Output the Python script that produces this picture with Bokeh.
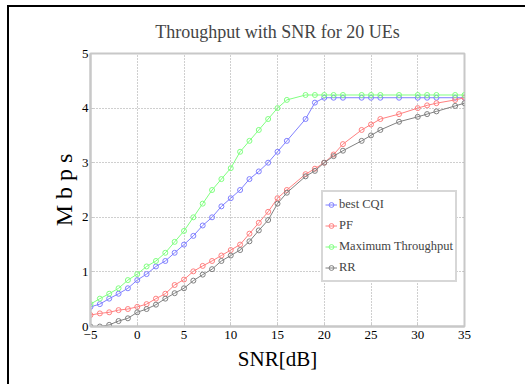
from bokeh.plotting import figure
from bokeh.models import Range1d, FixedTicker, Legend
from bokeh.embed import file_html
from bokeh.resources import INLINE

snr = [-5, -4, -3, -2, -1, 0, 1, 2, 3, 4, 5, 6, 7, 8, 9, 10, 11, 12, 13, 14, 15, 16,
       18, 19, 20, 21, 22, 24, 25, 26, 28, 30, 31, 32, 34, 35]

best_cqi = [0.36, 0.41, 0.51, 0.60, 0.70, 0.85, 0.96, 1.10, 1.20, 1.35, 1.50, 1.66,
            1.85, 2.00, 2.20, 2.35, 2.50, 2.70, 2.84, 3.00, 3.20, 3.40,
            3.80, 4.10, 4.19, 4.19, 4.19, 4.19, 4.19, 4.19, 4.19, 4.19, 4.19, 4.19, 4.19, 4.19]

pf = [0.21, 0.24, 0.26, 0.30, 0.32, 0.36, 0.41, 0.51, 0.60, 0.76, 0.86, 1.01,
      1.11, 1.20, 1.30, 1.40, 1.50, 1.70, 1.90, 2.10, 2.35, 2.50,
      2.79, 2.89, 3.00, 3.15, 3.34, 3.60, 3.70, 3.80, 3.89, 4.00, 4.05, 4.09, 4.15, 4.19]

max_tp = [0.41, 0.51, 0.60, 0.70, 0.85, 0.96, 1.10, 1.20, 1.35, 1.55, 1.75, 2.00,
          2.25, 2.50, 2.70, 2.90, 3.20, 3.40, 3.60, 3.80, 4.00, 4.15,
          4.24, 4.24, 4.24, 4.24, 4.24, 4.24, 4.24, 4.24, 4.24, 4.24, 4.24, 4.24, 4.24, 4.24]

rr = [0.00, 0.00, 0.03, 0.10, 0.15, 0.26, 0.32, 0.40, 0.51, 0.61, 0.70, 0.84,
      0.95, 1.05, 1.20, 1.30, 1.40, 1.56, 1.76, 1.95, 2.25, 2.45,
      2.75, 2.85, 3.00, 3.12, 3.22, 3.40, 3.50, 3.60, 3.75, 3.84, 3.89, 3.94, 4.04, 4.09]

x_ticks = [-5, 0, 5, 10, 15, 20, 25, 30, 35]
y_ticks = [0, 1, 2, 3, 4, 5]

series = [
    ("best CQI", best_cqi, "#8080ff"),
    ("PF", pf, "#ff8080"),
    ("Maximum Throughput", max_tp, "#80ff80"),
    ("RR", rr, "#808080"),
]

FONT = "Liberation Serif"

p = figure(width=516, height=377, output_backend="svg", toolbar_location=None,
           x_range=Range1d(-5, 35), y_range=Range1d(0, 5),
           min_border_left=81, min_border_right=63, min_border_top=46, min_border_bottom=60)

# black page frame: left and top edges near the corner, the rest runs off the page
p.styles = {"margin-left": "7px", "margin-top": "5px",
            "border-left": "2px solid black", "border-top": "2px solid black",
            "box-sizing": "content-box"}

p.title.text = "Throughput with SNR for 20 UEs"
p.title.align = "center"
p.title.text_font = FONT
p.title.text_font_style = "normal"
p.title.text_font_size = "18px"
p.title.standoff = 24

p.outline_line_color = "#c8c8c8"
p.outline_line_width = 2
p.background_fill_color = "white"
p.border_fill_color = "white"

for ax in (p.xaxis[0], p.yaxis[0]):
    ax.axis_line_color = "#c8c8c8"
    ax.axis_line_width = 2
    ax.major_tick_in = 3
    ax.major_tick_out = 0
    ax.major_tick_line_color = "#c8c8c8"
    ax.minor_tick_line_color = None
    ax.major_label_text_font = FONT
    ax.major_label_text_font_size = "13px"
    ax.major_label_text_color = "black"
    ax.axis_label_text_font = FONT
    ax.axis_label_text_font_style = "normal"
    ax.axis_label_text_color = "black"

p.xaxis.ticker = FixedTicker(ticks=x_ticks)
p.yaxis.ticker = FixedTicker(ticks=y_ticks)
p.xaxis.axis_label = "SNR[dB]"
p.xaxis.axis_label_text_font_size = "21px"
p.xaxis.axis_label_standoff = 5
p.xaxis.major_label_standoff = 4
p.yaxis.axis_label = "M b p s"
p.yaxis.axis_label_text_font_size = "24px"
p.yaxis.axis_label_standoff = 2
p.yaxis.major_label_standoff = 2

p.grid.grid_line_color = "#888888"
p.grid.grid_line_dash = "1 2"
p.grid.grid_line_alpha = 0.8
p.xgrid.ticker = FixedTicker(ticks=x_ticks)
p.ygrid.ticker = FixedTicker(ticks=y_ticks)

items = []
for name, vals, col in series:
    r1 = p.line(snr, vals, line_color=col, line_width=1)
    r2 = p.scatter(snr, vals, marker="circle", size=5, line_color=col,
                   fill_color=None, line_width=1)
    items.append((name, [r1, r2]))

legend = Legend(items=items, location=(231, 44))
legend.label_text_font = FONT
legend.label_text_font_size = "12.5px"
legend.label_height = 21
legend.glyph_height = 21
legend.glyph_width = 12
legend.label_standoff = 2
legend.padding = 2
legend.spacing = 0
legend.margin = 0
legend.border_line_color = "#b0b0b0"
legend.border_line_width = 2
legend.background_fill_color = "white"
legend.background_fill_alpha = 1
p.add_layout(legend, "center")

open("out.html", "w").write(file_html(p, INLINE))
